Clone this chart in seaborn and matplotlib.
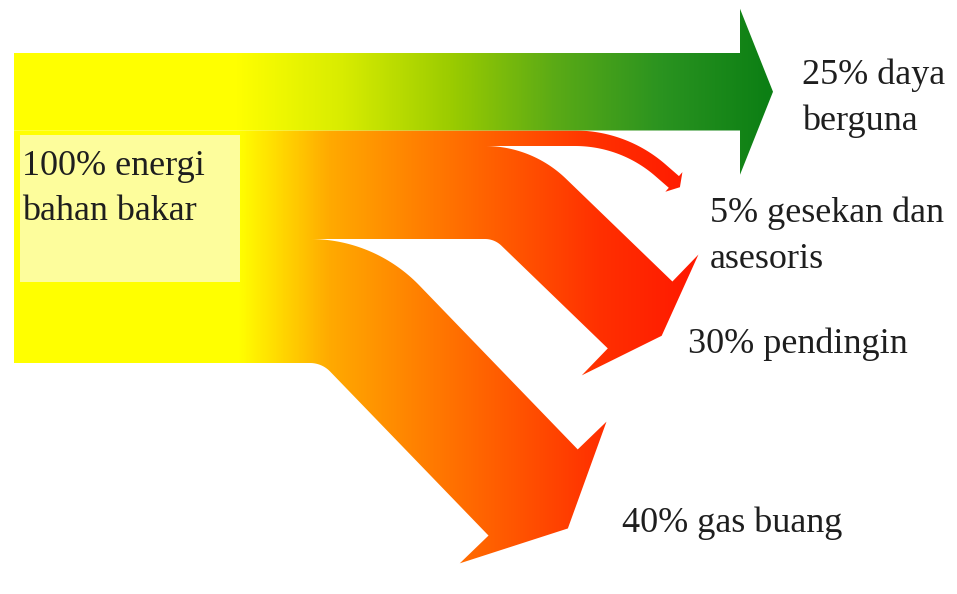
"""Energy flow (Sankey style) of a combustion engine fuel energy."""

import numpy as np
import matplotlib.pyplot as plt
import seaborn as sns
from matplotlib.patches import Polygon, Rectangle

# data
source_label = "100% energi\nbahan bakar"
flow_pct = [25, 5, 30, 40]
flow_labels = ["25% daya\nberguna", "5% gesekan dan\nasesoris",
               "30% pendingin", "40% gas buang"]

# layout, in pixels of the 957x594 canvas (y grows downwards)
PX_PER_PCT = 3.1
TOP, X_START = 53, 14
bend_x = [740, 575, 485, 310]
radius = [0, 130, 70, 90]
angle = [0, 41, 44, 46]
shaft = [0, 18, 148, 228]
head_len = [33, 8, 30, 50]
head_hw = [83, 13, 84, 102]
# baseline of the last line of each label
label_xy = [(802, 130), (710, 268), (688, 353), (622, 532)]
source_xy = (22, 220)
source_box = (20, 135, 220, 147)

# colour ramps along x
green_stops = ["#ffff00", "#d8ec00", "#9ccc00", "#5aaa16", "#2a9320", "#0c7f14"]
green_range = (235, 770)
warm_stops = ["#ffff00", "#ffaa00", "#ff8000", "#ff5800", "#ff3000", "#ff1a00"]
warm_range = (238, 690)


def ribbon(y0, w, xb, R, theta, L, hl, hw, n=60):
    th = np.radians(theta)
    phi = np.linspace(0, th, n) if theta > 0 else np.array([0.0])
    cx = np.r_[X_START, xb + R * np.sin(phi)]
    cy = np.r_[y0, y0 + R - R * np.cos(phi)]
    phi = np.r_[0, phi]
    ex, ey = cx[-1] + L * np.cos(th), cy[-1] + L * np.sin(th)
    cx, cy, phi = np.r_[cx, ex], np.r_[cy, ey], np.r_[phi, th]
    nx, ny = np.sin(phi), -np.cos(phi)
    up = np.c_[cx + w / 2 * nx, cy + w / 2 * ny]
    lo = np.c_[cx - w / 2 * nx, cy - w / 2 * ny]
    head = np.array([
        (ex + hw * np.sin(th), ey - hw * np.cos(th)),
        (ex + hl * np.cos(th), ey + hl * np.sin(th)),
        (ex - hw * np.sin(th), ey + hw * np.cos(th)),
    ])
    return np.vstack([up, head, lo[::-1]])


def gradient(ax, stops, xr, clip):
    cmap = sns.blend_palette(stops, as_cmap=True)
    xs = np.linspace(0, 957, 958)
    vals = np.clip((xs - xr[0]) / (xr[1] - xr[0]), 0, 1)[None, :]
    im = ax.imshow(vals, cmap=cmap, vmin=0, vmax=1, extent=(0, 957, 594, 0),
                   aspect="auto", interpolation="bilinear", zorder=1)
    im.set_clip_path(clip)


def main():
    sns.set_theme(style="white")
    plt.rcParams["font.family"] = ["Liberation Serif", "DejaVu Serif"]

    fig = plt.figure(figsize=(9.57, 5.94), dpi=100)
    ax = fig.add_axes([0, 0, 1, 1])
    ax.set_xlim(0, 957)
    ax.set_ylim(594, 0)
    ax.axis("off")

    widths = [p * PX_PER_PCT for p in flow_pct]
    tops = TOP + np.r_[0, np.cumsum(widths)[:-1]]
    for i in [3, 2, 1, 0]:
        w = widths[i]
        pts = ribbon(tops[i] + w / 2, w, bend_x[i], radius[i], angle[i],
                     shaft[i], head_len[i], head_hw[i])
        patch = Polygon(pts, closed=True, facecolor="none", edgecolor="none")
        ax.add_patch(patch)
        if i == 0:
            gradient(ax, green_stops, green_range, patch)
        else:
            gradient(ax, warm_stops, warm_range, patch)

    bx, by, bw, bh = source_box
    ax.add_patch(Rectangle((bx, by), bw, bh, facecolor="#fdfd9c",
                           edgecolor="none", zorder=2))
    ax.text(*source_xy, source_label, fontsize=26, color="#1e1e1e",
            va="baseline", ha="left", linespacing=1.48, zorder=3)

    for (x, y), lab in zip(label_xy, flow_labels):
        ax.text(x, y, lab, fontsize=26, color="#1e1e1e", va="baseline",
                ha="left", linespacing=1.5, zorder=3)

    fig.savefig("out.png", dpi=100, facecolor="white")


if __name__ == "__main__":
    main()
